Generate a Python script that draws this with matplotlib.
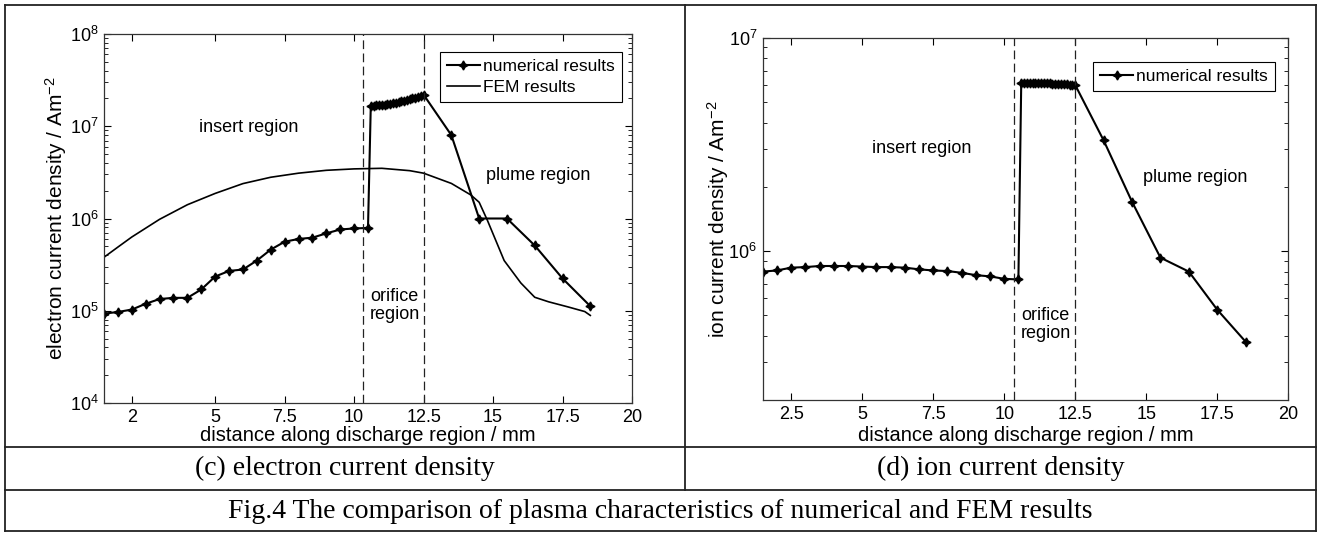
### Fig.4 - electron and ion current density, numerical vs FEM

import numpy as np
import matplotlib
matplotlib.use('Agg')
import matplotlib.pyplot as plt
from matplotlib.lines import Line2D
from matplotlib.ticker import NullFormatter, LogLocator

plt.rcParams['font.family'] = ['Liberation Sans', 'DejaVu Sans']
plt.rcParams['mathtext.fontset'] = 'custom'
plt.rcParams['mathtext.rm'] = 'Liberation Sans'
plt.rcParams['mathtext.it'] = 'Liberation Sans:italic'
plt.rcParams['mathtext.default'] = 'regular'

### data
# electron current density, numerical (insert / orifice / plume)
elec_x = [1.0, 1.5, 2.0, 2.5, 3.0, 3.5, 4.0, 4.5, 5.0, 5.5, 6.0, 6.5, 7.0, 7.5, 8.0, 8.5, 9.0, 9.5, 10.0, 10.5,
          10.6, 10.7, 10.8, 10.9, 11.0, 11.1, 11.2, 11.3, 11.4, 11.5, 11.6, 11.7, 11.8, 11.9, 12.0, 12.1, 12.2,
          12.3, 12.4, 12.5,
          13.5, 14.5, 15.5, 16.5, 17.5, 18.5]
elec_num = [9.3e4, 9.7e4, 1.03e5, 1.19e5, 1.34e5, 1.38e5, 1.38e5, 1.7e5, 2.35e5, 2.7e5, 2.8e5, 3.5e5, 4.6e5,
            5.6e5, 6.0e5, 6.2e5, 6.9e5, 7.6e5, 7.8e5, 7.9e5,
            1.66e7, 1.67e7, 1.68e7, 1.69e7, 1.71e7, 1.72e7, 1.74e7, 1.76e7, 1.78e7, 1.80e7, 1.83e7, 1.86e7,
            1.89e7, 1.92e7, 1.96e7, 2.00e7, 2.04e7, 2.09e7, 2.14e7, 2.20e7,
            8.0e6, 1.0e6, 1.0e6, 5.1e5, 2.24e5, 1.12e5]

# electron current density, FEM
fem_x = [1.0, 1.5, 2.0, 3.0, 4.0, 5.0, 6.0, 7.0, 8.0, 9.0, 10.0, 11.0, 12.0, 12.5, 13.5, 14.2, 14.5,
         14.8, 15.4, 16.0, 16.5, 17.0, 17.7, 18.3, 18.5]
fem_y = [3.8e5, 4.9e5, 6.3e5, 9.8e5, 1.41e6, 1.87e6, 2.39e6, 2.8e6, 3.1e6, 3.33e6, 3.45e6, 3.5e6, 3.3e6, 3.1e6,
         2.4e6, 1.8e6, 1.5e6, 9.5e5, 3.5e5, 2.0e5, 1.4e5, 1.25e5, 1.1e5, 9.8e4, 8.9e4]

# ion current density, numerical
ion_x = [1.5, 2.0, 2.5, 3.0, 3.5, 4.0, 4.5, 5.0, 5.5, 6.0, 6.5, 7.0, 7.5, 8.0, 8.5, 9.0, 9.5, 10.0, 10.5,
         10.6, 10.7, 10.8, 10.9, 11.0, 11.1, 11.2, 11.3, 11.4, 11.5, 11.6, 11.7, 11.8, 11.9, 12.0, 12.1, 12.2,
         12.3, 12.4, 12.5,
         13.5, 14.5, 15.5, 16.5, 17.5, 18.5]
ion_num = [8.0e5, 8.1e5, 8.35e5, 8.4e5, 8.5e5, 8.5e5, 8.5e5, 8.45e5, 8.4e5, 8.4e5, 8.35e5, 8.2e5, 8.1e5,
           8.05e5, 7.9e5, 7.7e5, 7.6e5, 7.4e5, 7.35e5,
           6.15e6, 6.15e6, 6.15e6, 6.14e6, 6.14e6, 6.13e6, 6.13e6, 6.12e6, 6.11e6, 6.10e6, 6.10e6, 6.09e6,
           6.08e6, 6.07e6, 6.06e6, 6.05e6, 6.04e6, 6.03e6, 6.01e6, 6.0e6,
           3.3e6, 1.7e6, 9.3e5, 8.0e5, 5.3e5, 3.75e5]

# region boundaries
boundaries = [10.33, 12.5]

elec_xticks = [2, 5, 7.5, 10, 12.5, 15, 17.5, 20]
elec_xlabels = ['2', '5', '7.5', '10', '12.5', '15', '17.5', '20']
ion_xticks = [2.5, 5, 7.5, 10, 12.5, 15, 17.5, 20]
ion_xlabels = ['2.5', '5', '7.5', '10', '12.5', '15', '17.5', '20']

### figure
W, H = 1320, 533
fig = plt.figure(figsize=(W / 100, H / 100), dpi=100)

def px(x, y):
    return x / W, 1 - y / H

ax1 = fig.add_axes([104 / W, 1 - 403 / H, 528 / W, 369 / H])
ax2 = fig.add_axes([762.7 / W, 1 - 400 / H, 525.6 / W, 362.3 / H])

star = (4, 1, 0)

# electron plot
ax1.plot(elec_x, elec_num, color='k', lw=1.5, marker=star, ms=6.5, label='numerical results')
ax1.plot(fem_x, fem_y, color='k', lw=1.2, label='FEM results')
ax1.set_yscale('log')
ax1.set_xlim(1, 20)
ax1.set_ylim(1e4, 1e8)
ax1.set_xticks(elec_xticks)
ax1.set_xticklabels(elec_xlabels)

# ion plot
ax2.plot(ion_x, ion_num, color='k', lw=1.5, marker=star, ms=6.5, label='numerical results')
ax2.set_yscale('log')
ax2.set_xlim(1.5, 20)
ax2.set_ylim(2e5, 1e7)
ax2.set_xticks(ion_xticks)
ax2.set_xticklabels(ion_xlabels)
ax2.yaxis.set_major_locator(LogLocator(base=10, numticks=10))
ax2.yaxis.set_minor_locator(LogLocator(base=10, subs=np.arange(2, 10), numticks=10))
ax2.yaxis.set_minor_formatter(NullFormatter())

for ax in (ax1, ax2):
    for b in boundaries:
        ax.axvline(b, color='#222222', lw=0.9, ls=(0, (7, 3.5)))
    ax.tick_params(which='both', direction='in', top=True, right=True, labelsize=13, pad=4)
    ax.tick_params(which='major', length=5, width=0.8)
    ax.tick_params(which='minor', length=3, width=0.6)
    ax.tick_params(axis='x', which='minor', top=False, bottom=False)
    for s in ax.spines.values():
        s.set_linewidth(0.9)
        s.set_color('#333333')
    ax.set_xlabel('distance along discharge region / mm', fontsize=14.5)

ax1.xaxis.set_label_coords(0.5, -0.063)
ax2.xaxis.set_label_coords(0.5, -0.072)
ax1.set_ylabel('electron current density / Am$^{-2}$', fontsize=15)
ax1.yaxis.set_label_coords(-0.067, 0.5)
ax2.set_ylabel('ion current density / Am$^{-2}$', fontsize=15)
ax2.yaxis.set_label_coords(-0.061, 0.5)

# region annotations
ax1.text(6.22, 9.8e6, 'insert region', fontsize=13, ha='center', va='center')
ax1.text(11.45, 1.15e5, 'orifice\nregion', fontsize=13, ha='center', va='center', linespacing=1.1)
ax1.text(16.62, 2.95e6, 'plume region', fontsize=13, ha='center', va='center')
ax2.text(7.08, 3.03e6, 'insert region', fontsize=13, ha='center', va='center')
ax2.text(11.45, 4.53e5, 'orifice\nregion', fontsize=13, ha='center', va='center', linespacing=1.1)
ax2.text(16.72, 2.22e6, 'plume region', fontsize=13, ha='center', va='center')

leg_kw = dict(fontsize=12.5, frameon=True, fancybox=False, edgecolor='k', framealpha=1,
              handlelength=1.9, handletextpad=0.2, borderpad=0.4, labelspacing=0.35, borderaxespad=0)
l1 = ax1.legend(loc='upper right', bbox_to_anchor=(0.981, 0.951), **leg_kw)
l2 = ax2.legend(loc='upper right', bbox_to_anchor=(0.975, 0.933), **leg_kw)
for l in (l1, l2):
    l.get_frame().set_linewidth(0.8)

### table frame around the panels
lines = [
    [(4.5, 4.5), (1316, 4.5)],
    [(4.5, 531), (1316, 531)],
    [(4.5, 4.5), (4.5, 531)],
    [(1316, 4.5), (1316, 531)],
    [(685, 4.5), (685, 490)],
    [(4.5, 446.7), (1316, 446.7)],
    [(4.5, 490), (1316, 490)],
]
for (xa, ya), (xb, yb) in lines:
    p0, p1 = px(xa, ya), px(xb, yb)
    fig.add_artist(Line2D([p0[0], p1[0]], [p0[1], p1[1]], transform=fig.transFigure,
                          color='#222222', lw=1.3))

serif = ['Liberation Serif', 'DejaVu Serif']
fig.text(*px(344.5, 468), '(c) electron current density', family=serif, fontsize=20, ha='center', va='center')
fig.text(*px(1000.5, 468), '(d) ion current density', family=serif, fontsize=20, ha='center', va='center')
fig.text(*px(660, 511), 'Fig.4 The comparison of plasma characteristics of numerical and FEM results',
         family=serif, fontsize=20, ha='center', va='center')

fig.savefig('out.png', dpi=100)
